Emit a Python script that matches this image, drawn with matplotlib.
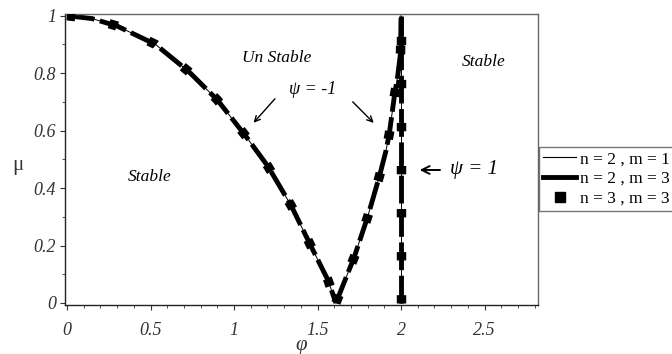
import matplotlib
matplotlib.use("Agg")
import matplotlib.pyplot as plt
from matplotlib.lines import Line2D

plt.rcParams['font.family'] = ['Liberation Serif', 'DejaVu Serif']
plt.rcParams['lines.scale_dashes'] = False

# ---- data ----
phi_left = [0.0, 0.15, 0.30, 0.53, 0.73, 0.90, 1.065, 1.204, 1.344, 1.453, 1.563, 1.61]
mu_left = [1.0, 0.99, 0.964, 0.90, 0.805, 0.707, 0.585, 0.475, 0.337, 0.207, 0.079, 0.0]
phi_right = [1.61, 1.72, 1.80, 1.87, 1.91, 1.93, 1.96, 1.98, 1.997, 2.0]
mu_right = [0.0, 0.16, 0.30, 0.44, 0.53, 0.59, 0.72, 0.79, 0.87, 1.0]
phi_vert = [2.0, 2.0]
mu_vert = [0.0, 1.0]

series_labels = ["n = 2 , m = 1", "n = 2 , m = 3", "n = 3 , m = 3"]
xticks = [0, 0.5, 1, 1.5, 2, 2.5]
xticklabels = ["0", "0.5", "1", "1.5", "2", "2.5"]
yticks = [0, 0.2, 0.4, 0.6, 0.8, 1]
yticklabels = ["0", "0.2", "0.4", "0.6", "0.8", "1"]

fig = plt.figure(figsize=(6.72, 3.54), dpi=100)
ax = fig.add_axes([0.0967, 0.1384, 0.7039, 0.8221])

curves = [(phi_left, mu_left), (phi_right, mu_right), (phi_vert, mu_vert)]
for px, py in curves:
    # n=3, m=3 : big square dashes
    ax.plot(px, py, color='black', lw=6.8, linestyle=(0, (6.0, 25.0)),
            dash_capstyle='butt', solid_capstyle='butt', zorder=3)
    # n=2, m=3 : thick line
    ax.plot(px, py, color='black', lw=3.5, linestyle=(0, (20.0, 4.0)),
            dash_capstyle='butt', zorder=2)
    # n=2, m=1 : thin line
    ax.plot(px, py, color='black', lw=0.7, zorder=4)

ax.set_xlim(-0.012, 2.82)
ax.set_ylim(-0.007, 1.006)
ax.set_xticks(xticks)
ax.set_xticklabels(xticklabels, fontstyle='italic', fontsize=13, color='#333333')
ax.set_yticks(yticks)
ax.set_yticklabels(yticklabels, fontstyle='italic', fontsize=13, color='#333333')
ax.set_xticks([i / 10 for i in range(0, 29)], minor=True)
ax.set_yticks([i / 10 for i in range(0, 11)], minor=True)
ax.tick_params(axis='x', which='major', direction='out', length=3.5, pad=9, color='#333333')
ax.tick_params(axis='y', which='major', direction='out', length=3.5, pad=3, color='#333333')
ax.tick_params(which='minor', direction='out', length=2.2, color='#333333')

for s in ['left', 'bottom']:
    ax.spines[s].set_color('#222222')
    ax.spines[s].set_linewidth(1.0)
for s in ['top', 'right']:
    ax.spines[s].set_color('#666666')
    ax.spines[s].set_linewidth(1.0)

ax.text(-0.099, 0.48, "μ", transform=ax.transAxes, fontsize=15, ha='center', va='center', color='#333333')
ax.text(0.5, -0.14, "φ", transform=ax.transAxes, fontsize=15, fontstyle='italic',
        ha='center', va='center', color='#333333')

ax.text(1.256, 0.854, "Un Stable", fontsize=12.5, fontstyle='italic', ha='center', va='center')
ax.text(2.494, 0.84, "Stable", fontsize=12.5, fontstyle='italic', ha='center', va='center')
ax.text(0.496, 0.439, "Stable", fontsize=12.5, fontstyle='italic', ha='center', va='center')
ax.text(1.471, 0.742, "ψ = -1", fontsize=13, fontstyle='italic', ha='center', va='center')
ax.annotate("", xy=(1.106, 0.620), xytext=(1.256, 0.718),
            arrowprops=dict(arrowstyle='->', color='black', lw=1.0))
ax.annotate("", xy=(1.848, 0.620), xytext=(1.699, 0.707),
            arrowprops=dict(arrowstyle='->', color='black', lw=1.0))
ax.annotate("", xy=(2.095, 0.463), xytext=(2.25, 0.463),
            arrowprops=dict(arrowstyle='->', color='black', lw=1.4, mutation_scale=14))
ax.text(2.296, 0.463, "ψ = 1", fontsize=15, fontstyle='italic', ha='left', va='center')

handles = [
    Line2D([], [], color='black', lw=0.8),
    Line2D([], [], color='black', lw=3.5),
    Line2D([], [], color='black', marker='s', markersize=7.5, linestyle='none'),
]
leg = fig.legend(handles, series_labels, loc='upper left',
                 bbox_to_anchor=(539 / 672, 1 - 147 / 354),
                 fontsize=12.5, frameon=True, fancybox=False, edgecolor='#555555',
                 handlelength=1.9, handletextpad=0.2, borderpad=0.25,
                 labelspacing=0.2, borderaxespad=0.0)
leg.get_frame().set_linewidth(1.0)

fig.savefig("out.png", dpi=100)
